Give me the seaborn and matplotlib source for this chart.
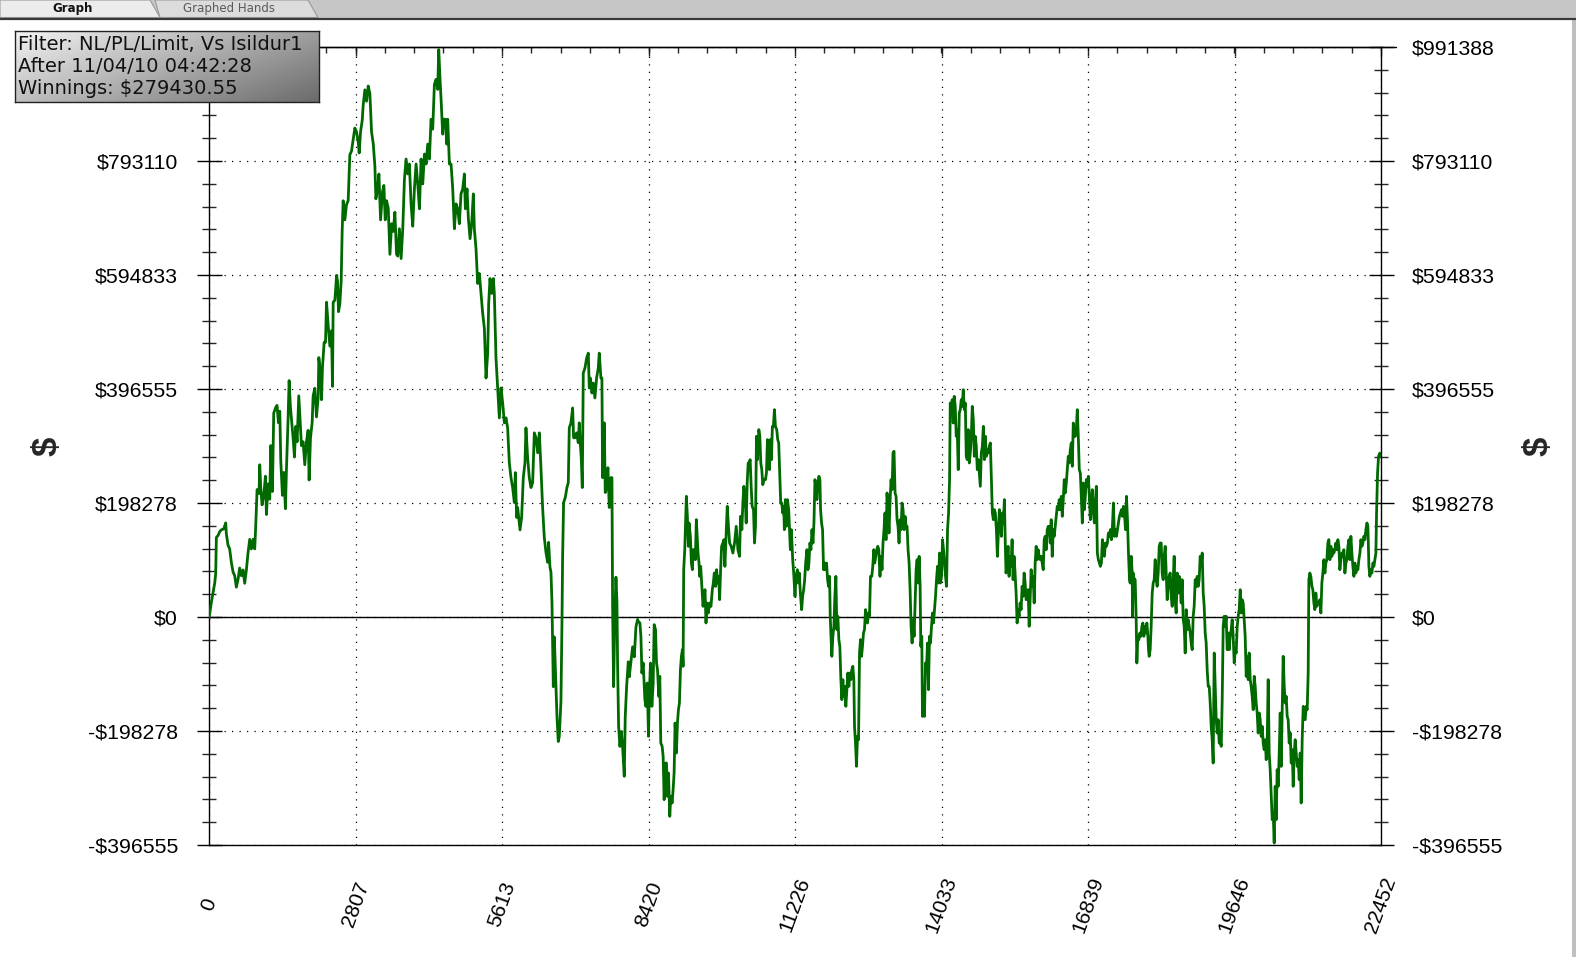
import numpy as np
import pandas as pd
import matplotlib
matplotlib.use("Agg")
import matplotlib.pyplot as plt
from matplotlib.patches import Rectangle, Polygon
import seaborn as sns

# ---------------- data (hands played, winnings in thousands of $) ----------------
part1 = [(0,0.0),(13,5.3),(45,25.3),(77,41.9),(109,58.6),(128,75.2),(141,138.4),(173,141.7),(205,148.4),(237,151.7),
(281,153.0),(320,163.7),(332,145.1),(364,125.1),(396,118.4),(428,95.2),(460,78.5),(492,71.9),(524,51.9),(556,65.2),
(588,85.2),(620,71.9),(652,81.8),(684,58.6),(716,81.8),(748,111.8),(780,135.1),(812,118.4),(844,135.1),(876,118.4),
(895,158.4),(921,221.6),(959,214.9),(972,264.8),(991,224.9),(1017,195.0),(1049,211.6),(1081,244.9),(1100,178.3),
(1132,231.6),(1164,204.9),(1183,298.1),(1215,218.3),(1240,354.7),(1279,364.6),(1304,368.0),(1330,338.0),(1356,358.0),
(1375,271.5),(1407,211.6),(1432,251.5),(1464,188.3),(1483,254.8),(1515,344.7),(1535,411.2),(1560,364.6),(1579,344.7),
(1611,311.4),(1637,278.1),(1662,331.4),(1688,304.8),(1720,384.6),(1739,351.3),(1771,298.1),(1803,304.8),(1835,264.8),
(1867,304.8),(1899,324.7),(1918,238.2),(1944,311.4),(1976,338.0),(1995,384.6),(2027,397.9),(2059,348.0),(2091,381.3),
(2104,451.2),(2136,424.5),(2155,377.9),(2174,434.5),(2206,477.8),(2232,477.8),(2251,547.6),(2283,507.7),(2315,471.1),
(2347,497.7),(2366,401.2),(2379,547.6),(2411,551.0),(2430,574.2),(2443,594.2),(2462,584.2),(2481,531.0),(2506,544.3),
(2532,584.2),(2551,670.7),(2570,724.0),(2602,690.7),(2634,717.3),(2666,724.0),(2698,803.8),(2730,810.5),(2762,830.4),
(2794,850.4),(2826,843.7),(2858,827.1),(2877,807.1),(2903,843.7),(2935,863.7),(2954,890.3),(2986,916.9),(3018,897.0),
(3050,923.6),(3082,910.3),(3114,843.7),(3146,823.8),(3178,783.8),(3197,727.3),(3229,743.9),(3255,770.5),(3287,690.7),
(3325,740.6),(3350,750.6),(3376,690.7),(3402,724.0),(3434,710.7),(3466,630.8),(3498,684.0),(3530,670.7),(3561,704.0),
(3593,630.8)]

part2 = [(3616,627.7),(3648,675.3),(3680,623.4),(3712,675.3),(3744,761.9),(3776,796.5),(3808,770.6),(3839,787.9),
(3871,718.6),(3903,679.7),(3935,744.6),(3967,787.9),(3999,753.2),(4031,709.9),(4063,796.5),(4095,753.2),(4127,805.2),
(4159,787.9),(4190,822.5),(4222,796.5),(4254,865.8),(4286,848.5),(4318,926.4),(4350,935.1),(4382,917.7),(4401,987.0),
(4426,935.1),(4446,900.4),(4477,839.8),(4497,865.8),(4529,865.8),(4554,822.5),(4573,865.8),(4605,787.9),(4637,787.9),
(4669,744.6),(4701,675.3),(4733,718.6),(4764,710.0),(4796,684.0),(4828,735.9),(4860,744.6),(4892,770.6),(4911,710.0),
(4943,744.6),(4969,692.6),(5001,658.0),(5032,684.0),(5064,735.9),(5083,675.3),(5115,640.7),(5147,580.1),(5179,597.4),
(5211,562.8),(5243,528.1),(5275,502.2),(5307,415.6),(5339,458.9),(5358,545.5),(5383,588.7),(5415,562.8),(5447,588.7),
(5466,562.8),(5498,450.2),(5530,398.3),(5562,346.3),(5594,398.3),(5626,372.3),(5658,337.7),(5690,346.3),(5721,329.0),
(5753,268.4),(5785,242.4),(5817,225.1),(5849,199.1),(5868,251.1),(5894,173.2),(5913,190.5),(5958,151.5),(5989,173.2),
(6021,242.4),(6053,268.4),(6072,329.0),(6104,277.1),(6136,242.4),(6168,225.1),(6200,233.8),(6232,320.3),(6264,311.7),
(6296,285.7),(6328,320.3),(6359,259.7),(6391,190.5),(6423,138.5),(6455,112.6),(6487,95.2),(6506,129.9),(6532,86.6),
(6551,77.9),(6570,26.0),(6596,-121.2),(6615,-34.6),(6640,-103.9),(6666,-173.2),(6691,-216.5),(6710,-207.8),
(6742,-147.2),(6762,-8.7),(6774,103.9),(6793,199.1),(6825,207.8),(6857,225.1),(6883,233.8),(6902,329.0),(6934,337.7),
(6966,363.6),(6985,311.7),(7010,311.7),(7042,320.3),(7074,303.0),(7093,337.7),(7112,303.0),(7131,277.1),(7151,225.1),
(7170,424.2),(7202,432.9),(7234,450.2),(7266,458.9),(7285,398.3),(7304,415.6),(7336,389.6),(7361,406.9),(7393,381.0),
(7425,415.6),(7457,432.9),(7476,458.9),(7508,415.6),(7527,415.6),(7540,242.4),(7572,337.7),(7591,216.5),(7617,225.1),
(7642,259.7),(7668,190.5),(7700,242.4),(7719,242.4),(7732,17.3),(7751,-121.2),(7776,8.7),(7796,69.3),(7815,26.0),
(7828,-86.6),(7847,-190.5),(7872,-225.1),(7898,-199.1),(7923,-225.1),(7955,-277.1),(7974,-173.2),(8000,-121.2),
(8032,-77.9),(8051,-103.9),(8083,-77.9),(8115,-51.9),(8147,-69.3),(8179,-17.3),(8211,-4.3)]

part3 = [(8223,-7.5),(8255,-10.4),(8274,-33.6),(8293,-97.4),(8318,-80.0),(8350,-143.8),(8369,-155.4),(8395,-114.8),
(8420,-207.5),(8433,-138.0),(8458,-80.0),(8484,-155.4),(8509,-114.8),(8528,-13.3),(8554,-22.0),(8573,-80.0),
(8592,-91.6),(8617,-138.0),(8636,-103.2),(8655,-219.2),(8681,-225.0),(8700,-242.4),(8719,-317.7),(8745,-254.0),
(8764,-254.0),(8783,-311.9),(8802,-271.3),(8827,-346.7),(8846,-311.9),(8872,-323.5),(8891,-300.3),(8910,-271.3),
(8929,-184.4),(8954,-236.6),(8974,-184.4),(8993,-161.2),(9012,-149.6),(9031,-91.6),(9050,-68.4),(9069,-56.8),
(9082,-85.8),(9094,82.3),(9114,117.1),(9133,175.1),(9145,209.9),(9164,175.1),(9184,122.9),(9196,163.5),(9222,140.3),
(9241,93.9),(9260,82.3),(9273,117.1),(9292,117.1),(9317,99.7),(9336,169.3),(9355,134.5),(9368,111.3),(9387,93.9),
(9400,70.7),(9419,88.1),(9438,59.1),(9464,18.6),(9483,35.9),(9502,47.5),(9521,-10.4),(9540,24.4),(9565,7.0),
(9591,24.4),(9616,18.6),(9642,47.5),(9661,59.1),(9680,76.5),(9705,53.3),(9724,82.3),(9743,59.1),(9763,70.7),
(9782,30.1),(9801,82.3),(9820,122.9),(9845,128.7),(9864,134.5),(9883,88.1),(9909,146.1),(9928,192.5),(9947,163.5),
(9973,128.7),(10004,122.9),(10036,111.3),(10068,128.7),(10100,157.7),(10132,117.1),(10163,105.5),(10183,175.1),
(10208,151.9),(10227,198.3),(10246,227.3),(10272,204.1),(10291,163.5),(10310,233.1),(10329,267.9),(10348,267.9),
(10367,273.7),(10386,227.3),(10405,192.5),(10431,186.7),(10450,128.7),(10469,157.7),(10488,314.3),(10507,273.7),
(10533,325.9),(10552,314.3),(10571,267.9),(10590,256.3),(10609,230.2),(10634,238.9),(10660,238.9),(10679,250.5),
(10698,308.5),(10717,291.1),(10736,256.3),(10755,308.5),(10774,273.7),(10793,331.6),(10812,331.6),(10832,360.6),
(10851,331.6),(10876,325.9),(10895,308.5),(10914,302.7),(10933,250.5),(10952,198.3),(10972,198.3),(10991,180.9),
(11010,192.5),(11022,151.9),(11041,204.1),(11061,157.7),(11080,204.1),(11105,186.7),(11118,157.7),(11137,117.1),
(11156,151.9),(11182,99.7),(11201,76.5),(11226,35.9),(11245,70.7),(11271,82.3),(11290,59.1),(11309,76.5),(11328,41.7),
(11353,12.8),(11372,35.9),(11392,47.5),(11411,64.9),(11430,93.9),(11455,117.1),(11474,82.3),(11493,93.9),(11512,128.7),
(11531,117.1),(11551,151.9),(11570,128.7),(11589,163.5),(11608,238.9),(11627,227.3),(11646,204.1),(11665,233.1),
(11684,244.7),(11703,238.9),(11716,186.7),(11735,163.5),(11754,151.9),(11773,82.3),(11792,93.9),(11811,82.3),
(11831,93.9),(11850,64.9),(11869,53.3),(11888,70.7),(11901,1.2),(11913,-27.8),(11932,-68.4),(11951,-33.6),(11971,-16.2),
(11990,35.9),(12009,70.7),(12028,-22.0),(12047,1.2),(12066,-39.4),(12085,-51.0),(12105,-109.0),(12124,-143.8),
(12143,-109.0),(12162,-138.0),(12181,-120.6),(12200,-155.4),(12219,-126.4),(12239,-97.4),(12258,-120.6),(12277,-97.4),
(12296,-109.0),(12315,-91.6),(12334,-85.8),(12353,-109.0),(12366,-190.2),(12385,-219.2),(12404,-259.7),(12423,-207.6),
(12443,-213.4),(12462,-62.6),(12481,-39.4),(12500,-68.4),(12519,-51.0),(12538,-27.8),(12557,-22.0),(12577,12.8),
(12596,1.2),(12615,-10.4),(12634,7.0),(12653,1.2),(12672,70.7),(12697,70.7),(12716,88.1),(12735,117.1),(12754,93.9),
(12773,105.5),(12793,117.1),(12812,122.9),(12831,117.1)]

part4 = [(12854,70.7),(12873,105.5),(12893,82.3),(12912,128.7),(12931,151.9),(12950,180.9),(12970,134.5),(12989,215.7),
(13008,186.7),(13027,146.1),(13046,198.3),(13066,238.9),(13085,221.5),(13104,285.3),(13123,288.2),(13143,215.7),
(13162,209.9),(13181,169.3),(13200,157.7),(13219,128.7),(13239,169.3),(13258,151.9),(13277,198.3),(13296,186.7),
(13316,151.9),(13335,175.1),(13354,157.7),(13373,157.7),(13392,117.1),(13412,93.9),(13431,47.5),(13450,-16.2),
(13469,-45.2),(13489,-4.6),(13508,-33.6),(13527,24.4),(13546,82.3),(13565,99.7),(13585,59.1),(13604,105.5),(13623,53.3),
(13636,-51.0),(13655,-33.6),(13668,-172.8),(13687,-149.6),(13706,-172.8),(13726,-80.0),(13745,-91.6),(13764,-45.2),
(13783,-126.4),(13802,-33.6),(13822,-45.2),(13841,-16.2),(13860,7.0),(13879,-10.4),(13898,12.8),(13918,35.9),
(13937,64.9),(13956,88.1),(13975,59.1),(13995,111.3),(14014,59.1),(14033,70.7),(14052,134.5),(14071,117.1),(14091,93.9),
(14110,70.7),(14129,53.3),(14148,151.9),(14168,180.9),(14187,238.9),(14200,372.2),(14219,354.8),(14238,378.0),
(14257,337.4),(14276,383.8),(14296,366.4),(14315,314.3),(14334,325.9),(14353,256.3),(14373,354.8),(14392,360.6),
(14411,378.0),(14430,366.4),(14449,395.4),(14469,360.6),(14488,372.2),(14507,279.5),(14526,273.7),(14545,325.9),
(14565,267.9),(14584,285.3),(14603,314.3),(14622,366.4),(14642,343.2),(14661,279.5),(14680,314.3),(14699,296.9),
(14718,256.3),(14738,273.7),(14757,250.5),(14776,227.3),(14795,285.3),(14815,296.9),(14834,331.6),(14853,273.7),
(14872,314.3),(14891,279.5),(14911,291.1),(14930,285.3),(14949,296.9),(14968,302.7),(14988,238.9),(15007,180.9),
(15026,169.3),(15045,186.7),(15064,180.9),(15084,151.9),(15103,105.5),(15122,146.1),(15141,186.7),(15161,169.3),
(15180,140.3),(15199,180.9),(15218,163.5),(15237,204.1),(15257,117.1),(15269,76.5),(15289,93.9),(15308,122.9),
(15327,70.7),(15346,105.5),(15365,88.1),(15385,134.5),(15404,64.9),(15423,105.5),(15442,76.5),(15462,41.7),
(15481,-10.4),(15500,12.8),(15519,1.2),(15538,24.4),(15558,12.8),(15577,53.3),(15596,35.9),(15615,76.5),(15635,59.1),
(15654,30.1),(15673,35.9),(15692,47.5),(15712,-16.2),(15731,35.9),(15750,82.3),(15769,53.3),(15788,70.7),(15808,24.4),
(15827,93.9),(15846,122.9),(15865,99.7),(15885,117.1),(15904,105.5),(15923,99.7),(15942,105.5),(15961,93.9),
(15981,82.3),(16000,134.5),(16019,140.3),(16038,117.1),(16058,151.9),(16077,157.7),(16096,157.7),(16115,128.7),
(16134,169.3),(16154,105.5),(16173,151.9),(16192,140.3),(16211,157.7),(16231,175.1),(16250,192.5),(16269,186.7),
(16288,204.1),(16307,186.7),(16327,209.9),(16346,175.1),(16365,204.1),(16384,238.9),(16403,215.7),(16423,233.1),
(16442,256.3),(16461,279.5),(16480,267.9),(16500,291.1),(16519,302.7),(16538,262.1),(16557,337.4),(16576,314.3),
(16596,314.3),(16615,325.9),(16634,360.6),(16653,314.3),(16672,256.3),(16692,250.5),(16711,209.9),(16730,163.5),
(16749,233.1),(16769,186.7),(16788,209.9),(16807,238.9),(16826,227.3),(16845,244.7),(16865,209.9),(16884,169.3),
(16903,198.3),(16922,221.5),(16942,180.9),(16961,163.5),(16980,198.3),(16999,227.3),(17018,111.3),(17038,99.7),
(17057,93.9),(17076,88.1),(17095,93.9),(17115,134.5),(17134,111.3),(17153,105.5),(17172,128.7),(17191,122.9),
(17211,128.7),(17230,146.1),(17249,140.3),(17268,151.9),(17288,134.5),(17307,157.7),(17326,198.3),(17345,140.3),
(17364,151.9),(17384,140.3),(17403,151.9),(17422,163.5),(17441,175.1),(17461,180.9),(17480,186.7),(17499,175.1),
(17518,192.5),(17537,180.9),(17557,151.9),(17576,209.9),(17595,169.3),(17614,111.3),(17634,64.9)]

part5 = [(17647,59.1),(17666,105.5),(17686,76.5),(17692,1.2),(17705,76.5),(17724,64.9),(17743,64.9),(17762,-4.6),
(17775,-80.0),(17794,-33.6),(17813,-39.4),(17832,-27.8),(17852,-33.6),(17871,-16.2),(17890,-10.4),(17909,-33.6),
(17928,-16.2),(17947,-27.8),(17967,-10.4),(17986,-33.6),(17998,-56.8),(18011,-68.4),(18030,-56.8),(18049,-16.2),
(18069,41.7),(18088,59.1),(18107,64.9),(18126,99.7),(18145,64.9),(18164,53.3),(18184,76.5),(18203,122.9),(18222,128.7),
(18241,128.7),(18260,76.5),(18279,64.9),(18299,105.5),(18318,122.9),(18337,76.5),(18356,30.1),(18375,53.3),(18394,70.7),
(18413,76.5),(18433,35.9),(18452,18.6),(18471,64.9),(18490,105.5),(18509,30.1),(18528,7.0),(18548,76.5),(18567,41.7),
(18586,70.7),(18605,53.3),(18624,24.4),(18643,64.9),(18663,-4.6),(18682,-16.2),(18701,-62.6),(18720,12.8),(18739,-22.0),
(18758,-4.6),(18778,-16.2),(18797,-27.8),(18816,-45.2),(18835,-56.8),(18854,1.2),(18873,18.6),(18893,64.9),(18912,53.3),
(18931,70.7),(18950,53.3),(18969,64.9),(18988,105.5),(19007,88.1),(19027,111.3),(19046,41.7),(19065,18.6),(19084,-27.8),
(19103,-45.2),(19122,-91.6),(19142,-120.6),(19161,-120.6),(19180,-149.6),(19199,-190.2),(19218,-213.4),(19237,-254.0),
(19257,-62.6),(19276,-120.6),(19295,-178.6),(19314,-201.8),(19333,-178.6),(19352,-219.2),(19372,-213.4),(19391,-225.0),
(19410,-143.8),(19429,-16.2),(19448,1.2),(19467,-16.2),(19486,1.2),(19506,-56.8),(19525,-27.8),(19544,-56.8),
(19563,-33.6),(19582,-22.0),(19601,-4.6),(19620,-33.6),(19640,-80.0),(19659,-56.8),(19678,-62.6),(19697,-16.2),
(19716,1.2),(19735,12.8),(19755,47.5),(19774,7.0),(19793,30.1),(19812,24.4),(19831,-4.6),(19850,-33.6),(19870,-103.2),
(19889,-68.4),(19908,-109.0),(19927,-62.6),(19946,-109.0),(19965,-120.6),(19984,-138.0),(20004,-161.2),(20023,-103.2),
(20042,-120.6),(20061,-149.6),(20080,-167.0),(20099,-201.8),(20119,-167.0),(20138,-178.6),(20157,-207.6),(20176,-190.2),
(20195,-219.2),(20214,-230.8),(20234,-213.4),(20253,-248.2),(20272,-213.4),(20291,-109.0),(20310,-236.6),(20329,-265.6),
(20349,-312.0),(20368,-352.5),(20387,-340.9),(20406,-393.1),(20425,-294.5),(20444,-352.5),(20463,-265.6),(20483,-294.5),
(20502,-236.6),(20521,-167.0),(20540,-259.8),(20559,-161.2),(20578,-68.4),(20598,-120.6),(20617,-149.6),(20636,-138.0),
(20655,-172.8),(20674,-178.6),(20693,-219.2),(20713,-201.8),(20732,-254.0),(20751,-230.8),(20770,-294.5),(20789,-236.6),
(20808,-213.4),(20828,-236.6),(20847,-259.8),(20866,-248.2),(20885,-283.0),(20904,-236.6),(20923,-323.5),(20942,-213.4),
(20962,-155.4),(20981,-167.0),(21000,-178.6),(21019,-155.4),(21038,-161.2),(21057,-97.4),(21070,64.9),(21089,76.5),
(21108,70.7),(21128,53.3),(21147,47.5),(21166,24.4),(21185,12.8),(21204,41.7),(21223,18.6),(21243,24.4),(21262,24.4),
(21281,30.1),(21300,7.0),(21319,59.1),(21338,76.5),(21358,99.7),(21377,76.5),(21396,93.9),(21415,99.7),(21434,128.7),
(21453,134.5),(21473,99.7),(21492,122.9),(21511,105.5),(21530,117.1),(21549,111.3),(21568,117.1),(21588,128.7),
(21607,117.1),(21626,134.5),(21645,122.9),(21664,82.3),(21683,99.7),(21703,111.3),(21722,105.5),(21741,117.1),
(21760,76.5),(21779,93.9),(21798,99.7),(21818,122.9),(21837,134.5),(21856,99.7),(21875,140.3),(21894,111.3),(21913,88.1),
(21933,70.7),(21952,93.9),(21971,76.5),(21990,88.1),(22009,82.3),(22028,99.7),(22048,111.3),(22067,134.5),(22086,122.9),
(22105,128.7),(22124,140.3),(22143,134.5),(22163,151.9),(22182,163.5),(22201,157.7),(22220,88.1),(22239,70.7),
(22258,82.3),(22278,76.5),(22297,93.9),(22316,88.1),(22335,99.7),(22354,111.3),(22367,180.9),(22386,250.5),(22405,279.5),
(22430,285.0),(22452,279.43)]

y_ticks = [-396555, -198278, 0, 198278, 396555, 594833, 793110, 991388]
y_labels = ["-$396555", "-$198278", "$0", "$198278", "$396555", "$594833", "$793110", "$991388"]
x_ticks = [0, 2807, 5613, 8420, 11226, 14033, 16839, 19646, 22452]
x_labels = ["0", "2807", "5613", "8420", "11226", "14033", "16839", "19646", "22452"]
info_lines = ["Filter: NL/PL/Limit, Vs Isildur1", "After 11/04/10 04:42:28", "Winnings: $279430.55"]
tab_names = ["Graph", "Graphed Hands"]

# ---------------- build frame ----------------
pts = part1 + part2 + part3 + part4 + part5
df = pd.DataFrame(pts, columns=["hands", "winnings_k"])
df["winnings"] = df["winnings_k"] * 1000.0

sns.set_style("white")
plt.rcParams["font.family"] = ["Liberation Sans", "DejaVu Sans"]

W, H = 1576, 957
fig = plt.figure(figsize=(W / 100, H / 100), dpi=100)
fig.patch.set_facecolor("white")

# overlay in pixel coordinates for window chrome
ov = fig.add_axes([0, 0, 1, 1], zorder=0)
ov.set_xlim(0, W)
ov.set_ylim(H, 0)
ov.axis("off")
ov.patch.set_visible(False)
ov.add_patch(Rectangle((0, 0), W, 17.5, facecolor="#c6c6c6", edgecolor="none"))
ov.add_patch(Polygon([(0, 0), (150, 0), (160, 17.5), (0, 17.5)], closed=True, facecolor="#ececec", edgecolor="#9a9a9a", lw=0.8))
ov.add_patch(Polygon([(155, 0), (308, 0), (318, 17.5), (160, 17.5)], closed=True, facecolor="#dcdcdc", edgecolor="#9a9a9a", lw=0.8))
ov.plot([0, W], [18.5, 18.5], color="#3a3a3a", lw=1.6, solid_capstyle="butt")
ov.add_patch(Rectangle((1572, 19), 4, H - 19, facecolor="#c0c0c0", edgecolor="none"))
ov.text(73, 8.5, tab_names[0], ha="center", va="center", fontsize=8.5, fontweight="bold",
        family=["DejaVu Sans"], color="#111111")
ov.text(229, 8.5, tab_names[1], ha="center", va="center", fontsize=8.5,
        family=["DejaVu Sans"], color="#5a5a5a")
ov.plot([1381, 1396], [47, 47], color="black", lw=1)

# main axes
L, R, T, B = 209, 1381, 47, 845
ax = fig.add_axes([L / W, 1 - B / H, (R - L) / W, (B - T) / H], zorder=1)
ax.set_facecolor("white")

sns.lineplot(data=df, x="hands", y="winnings", sort=False, estimator=None,
             color="#006a00", linewidth=2.0, ax=ax, zorder=3)
ax.axhline(0, color="black", lw=1.0, zorder=2)

ax.set_xlim(0, 22452)
ax.set_ylim(-396555, 991388)
ax.set_xlabel("")
ax.set_ylabel("")

ax.set_xticks(x_ticks)
ax.set_xticklabels(x_labels, rotation=70, ha="center", va="center", rotation_mode="anchor")
ax.set_xticks(np.linspace(0, 22452, 41), minor=True)
ax.set_yticks(y_ticks)
ax.set_yticklabels(y_labels)
ax.set_yticks(np.linspace(-396555, 991388, 36), minor=True)

ax.tick_params(axis="x", which="major", direction="inout", length=20, width=1, pad=33,
               labelsize=15, colors="black")
ax.tick_params(axis="x", which="minor", direction="inout", length=10, width=1)
ax.tick_params(axis="y", which="major", direction="inout", length=18, width=1, pad=13.3,
               labelsize=15.3, left=True, right=True, labelleft=True, labelright=True, colors="black")
ax.tick_params(axis="y", which="minor", direction="inout", length=10, width=1, left=True, right=True)

# the top-left label sits under the info box in the original: hide it there
ax.yaxis.get_major_ticks()[-1].label1.set_visible(False)

for s in ax.spines.values():
    s.set_visible(True)
    s.set_color("black")
    s.set_linewidth(1.0)

ax.grid(True, which="major", axis="both", color="black", linestyle=(0, (1, 5)), linewidth=0.9, zorder=1)

top = ax.secondary_xaxis("top")
top.set_xticks(x_ticks)
top.set_xticks(np.linspace(0, 22452, 41), minor=True)
top.tick_params(which="major", direction="in", length=6.5, width=1, labeltop=False)
top.tick_params(which="minor", direction="in", length=4, width=1, labeltop=False)
top.spines["top"].set_linewidth(1.0)

# axis "$" labels
fig.text(47 / W, 1 - 446 / H, "$", rotation=90, ha="center", va="center", fontsize=25,
         fontweight="bold", family=["Liberation Sans"])
fig.text(1538 / W, 1 - 446 / H, "$", rotation=90, ha="center", va="center", fontsize=25,
         fontweight="bold", family=["Liberation Sans"])

# info box with gradient
bx0, by0, bx1, by1 = 15, 31, 319, 102
box = fig.add_axes([bx0 / W, 1 - by1 / H, (bx1 - bx0) / W, (by1 - by0) / H], zorder=5)
gx = np.linspace(0, 1, 200)
gy = np.linspace(0, 1, 60)
GX, GY = np.meshgrid(gx, gy)
grad = 0.95 - 0.33 * GX - 0.2 * GY
box.imshow(grad, extent=[0, 1, 0, 1], aspect="auto", cmap="gray", vmin=0, vmax=1, origin="upper")
box.set_xlim(0, 1)
box.set_ylim(0, 1)
box.set_xticks([])
box.set_yticks([])
for s in box.spines.values():
    s.set_color("#222222")
    s.set_linewidth(1.0)
for i, line in enumerate(info_lines):
    cy = [44, 66, 89][i]
    box.text(3 / (bx1 - bx0), (by1 - cy) / (by1 - by0), line, ha="left", va="center",
             fontsize=14, family=["DejaVu Sans"], color="#111111")

fig.savefig("out.png", dpi=100, facecolor="white")
